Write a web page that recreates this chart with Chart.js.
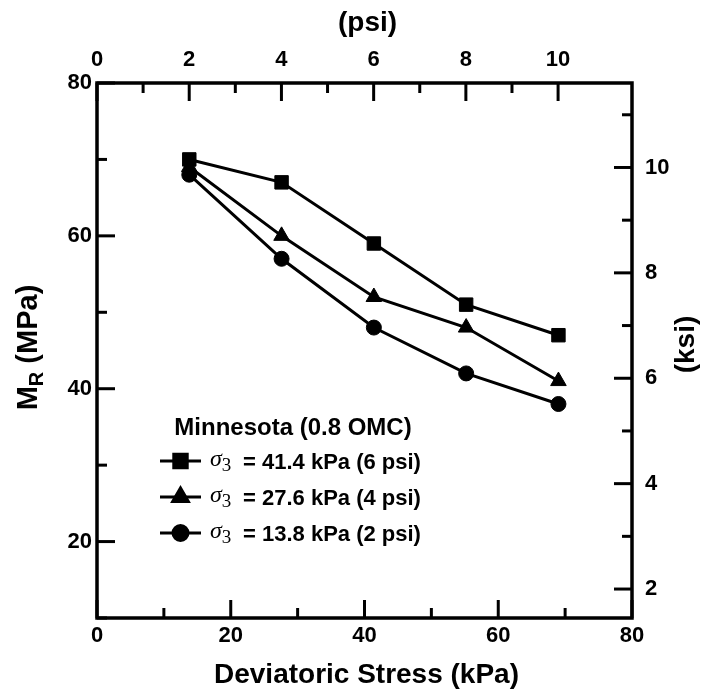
<!DOCTYPE html>
<html>
<head>
<meta charset="utf-8">
<script src="https://cdn.jsdelivr.net/npm/chart.js@4/dist/chart.umd.min.js"></script>
<style>
  html, body { margin: 0; padding: 0; background: #fff; }
  #wrap { width: 701px; height: 694px; }
</style>
</head>
<body>
<div id="wrap"><canvas id="c" width="701" height="694"></canvas></div>
<script>
// Resilient modulus vs deviatoric stress, Minnesota soil at 0.8 OMC
const deviatoricStress = [13.8, 27.6, 41.4, 55.2, 69.0];   // kPa
const mrConfining41 = [70, 67, 59, 51, 47];                 // MPa, sigma3 = 41.4 kPa
const mrConfining27 = [69, 60, 52, 48, 41];                 // MPa, sigma3 = 27.6 kPa
const mrConfining13 = [68, 57, 48, 42, 38];                 // MPa, sigma3 = 13.8 kPa
const seriesLabels = ['= 41.4 kPa (6 psi)', '= 27.6 kPa (4 psi)', '= 13.8 kPa (2 psi)'];
const seriesMarkers = ['rect', 'triangle', 'circle'];
const legendTitle = 'Minnesota (0.8 OMC)';
const xTitle = 'Deviatoric Stress (kPa)';
const topTitle = '(psi)';
const rightTitle = '(ksi)';

const KPA_PER_PSI = 6.894757;   // also MPa per ksi
const xMin = 0, xMax = 80;      // kPa
const yMin = 10, yMax = 80;     // MPa

const FONT = '"Liberation Sans", Arial, Helvetica, sans-serif';
const SERIF = '"Liberation Serif", "DejaVu Serif", serif';
Chart.defaults.font.family = FONT;
Chart.defaults.color = '#000';

const tickFont = { family: FONT, size: 22, weight: 'bold' };
const labelEvery = step => v => (Math.abs(v / step - Math.round(v / step)) < 1e-6 ? String(Math.round(v)) : '');
const noGrid = { display: false, drawTicks: false, drawOnChartArea: false };

function makeSeries(values, marker, radius) {
  return {
    data: deviatoricStress.map((x, i) => ({ x, y: values[i] })),
    xAxisID: 'x',
    yAxisID: 'y',
    borderColor: '#000',
    backgroundColor: '#000',
    borderWidth: 3,
    pointStyle: marker,
    pointRadius: radius,
    pointBorderWidth: 1,
    pointBackgroundColor: '#000',
    pointBorderColor: '#000',
    tension: 0,
    fill: false
  };
}

const markerRadius = { rect: 9.5, triangle: 9, circle: 7.5 };

// Closed frame with inward tick marks on all four axes
const frameAndTicks = {
  id: 'frameAndTicks',
  afterDatasetsDraw(chart) {
    const { ctx, chartArea: a, scales } = chart;
    ctx.save();
    ctx.strokeStyle = '#000';
    ctx.lineCap = 'butt';
    const majorLen = 18, minorLen = 10;
    const drawTicks = (scale, majorStep, side) => {
      scale.ticks.forEach(t => {
        const v = t.value;
        if (Math.abs(v - Math.round(v)) > 1e-6) return;
        const isMajor = Math.abs(v / majorStep - Math.round(v / majorStep)) < 1e-6;
        const len = isMajor ? majorLen : minorLen;
        const p = scale.getPixelForValue(v);
        ctx.lineWidth = 3;
        ctx.beginPath();
        if (side === 'bottom') { ctx.moveTo(p, a.bottom); ctx.lineTo(p, a.bottom - len); }
        if (side === 'top')    { ctx.moveTo(p, a.top);    ctx.lineTo(p, a.top + len); }
        if (side === 'left')   { ctx.moveTo(a.left, p);   ctx.lineTo(a.left + len, p); }
        if (side === 'right')  { ctx.moveTo(a.right, p);  ctx.lineTo(a.right - len, p); }
        ctx.stroke();
      });
    };
    drawTicks(scales.x, 20, 'bottom');
    drawTicks(scales.x2, 2, 'top');
    drawTicks(scales.y, 20, 'left');
    drawTicks(scales.y2, 2, 'right');
    ctx.lineWidth = 3.5;
    ctx.lineJoin = 'miter';
    ctx.strokeRect(a.left, a.top, a.right - a.left, a.bottom - a.top);
    ctx.restore();
  }
};

// Axis titles and the in-plot legend box
const annotations = {
  id: 'annotations',
  afterDraw(chart) {
    const { ctx, chartArea: a } = chart;
    const cx = (a.left + a.right) / 2;
    const cy = (a.top + a.bottom) / 2;
    ctx.save();
    ctx.fillStyle = '#000';
    ctx.textBaseline = 'alphabetic';

    // bottom title
    ctx.font = `bold 28px ${FONT}`;
    ctx.textAlign = 'center';
    ctx.fillText(xTitle, cx + 2, 683);

    // top title
    ctx.fillText(topTitle, cx + 3, 31);

    // right title, reading upward
    ctx.save();
    ctx.translate(694, cy - 6);
    ctx.rotate(-Math.PI / 2);
    ctx.textAlign = 'center';
    ctx.fillText(rightTitle, 0, 0);
    ctx.restore();

    // left title M_R (MPa), reading upward
    ctx.save();
    ctx.translate(37, cy - 3);
    ctx.rotate(-Math.PI / 2);
    ctx.textAlign = 'left';
    const big = `bold 29px ${FONT}`, small = `bold 20px ${FONT}`;
    ctx.font = big;  const wM = ctx.measureText('M').width;
    ctx.font = small; const wR = ctx.measureText('R').width;
    ctx.font = big;  const wRest = ctx.measureText(' (MPa)').width;
    let x0 = -(wM + wR + wRest) / 2;
    ctx.font = big;   ctx.fillText('M', x0, 0); x0 += wM;
    ctx.font = small; ctx.fillText('R', x0, 6); x0 += wR;
    ctx.font = big;   ctx.fillText(' (MPa)', x0, 0);
    ctx.restore();

    // legend
    ctx.font = `bold 24px ${FONT}`;
    ctx.textAlign = 'center';
    ctx.fillText(legendTitle, 293, 435);

    const rowY = [461, 497, 533];
    chart.data.datasets.forEach((ds, i) => {
      const y = rowY[i];
      ctx.strokeStyle = '#000';
      ctx.lineWidth = 3;
      ctx.beginPath();
      ctx.moveTo(160, y);
      ctx.lineTo(201, y);
      ctx.stroke();
      ctx.fillStyle = '#000';
      Chart.helpers.drawPoint(ctx, {
        pointStyle: ds.pointStyle,
        radius: ds.pointRadius,
        rotation: 0,
        borderWidth: 1
      }, 180.5, y);
      ctx.textAlign = 'left';
      ctx.font = `italic 24px ${SERIF}`;
      ctx.fillText('\u03C3', 210, y + 5);
      const ws = ctx.measureText('\u03C3').width;
      ctx.font = `19px ${SERIF}`;
      ctx.fillText('3', 210 + ws, y + 10);
      ctx.font = `bold 22px ${FONT}`;
      ctx.fillText(seriesLabels[i], 243, y + 8);
    });
    ctx.restore();
  }
};

new Chart(document.getElementById('c'), {
  type: 'line',
  data: {
    datasets: [
      makeSeries(mrConfining41, seriesMarkers[0], markerRadius.rect),
      makeSeries(mrConfining27, seriesMarkers[1], markerRadius.triangle),
      makeSeries(mrConfining13, seriesMarkers[2], markerRadius.circle)
    ]
  },
  options: {
    responsive: false,
    animation: false,
    layout: { padding: 0, autoPadding: false },
    plugins: { legend: { display: false }, tooltip: { enabled: false } },
    scales: {
      x: {
        type: 'linear', position: 'bottom', min: xMin, max: xMax,
        grid: noGrid, border: { display: false },
        ticks: { stepSize: 10, autoSkip: false, maxRotation: 0, padding: 5, font: tickFont, color: '#000', callback: labelEvery(20) },
        afterFit(s) { s.height = 76; }
      },
      x2: {
        type: 'linear', position: 'top', min: xMin / KPA_PER_PSI, max: xMax / KPA_PER_PSI,
        grid: noGrid, border: { display: false },
        ticks: { stepSize: 1, autoSkip: false, maxRotation: 0, padding: 10, font: tickFont, color: '#000', callback: labelEvery(2) },
        afterFit(s) { s.height = 83; }
      },
      y: {
        type: 'linear', position: 'left', min: yMin, max: yMax,
        grid: noGrid, border: { display: false },
        ticks: { stepSize: 10, autoSkip: false, padding: 5, font: tickFont, color: '#000', callback: labelEvery(20) },
        afterFit(s) { s.width = 97; }
      },
      y2: {
        type: 'linear', position: 'right', min: yMin / KPA_PER_PSI, max: yMax / KPA_PER_PSI,
        grid: noGrid, border: { display: false },
        ticks: { stepSize: 1, autoSkip: false, padding: 13, font: tickFont, color: '#000', callback: labelEvery(2) },
        afterFit(s) { s.width = 69; }
      }
    }
  },
  plugins: [frameAndTicks, annotations]
});
</script>
</body>
</html>
